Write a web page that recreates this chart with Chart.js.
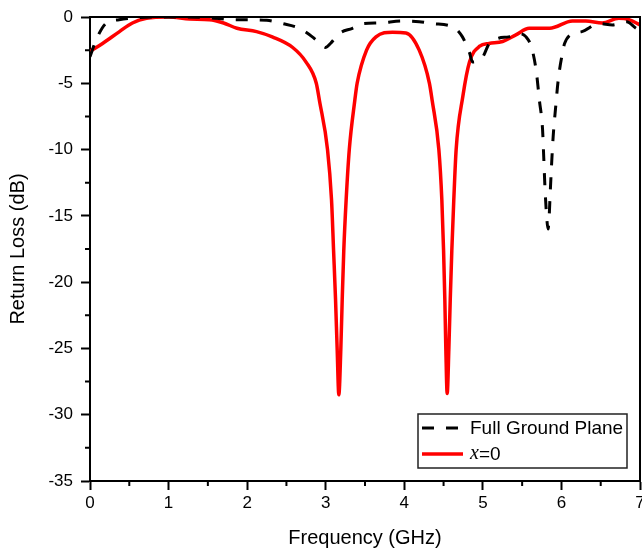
<!DOCTYPE html>
<html>
<head>
<meta charset="utf-8">
<script src="https://cdn.jsdelivr.net/npm/chart.js@4.4.1/dist/chart.umd.min.js"></script>
<style>
  body { margin: 0; background: #fff; }
  canvas { display: block; }
</style>
</head>
<body>
<canvas id="myChart" width="642" height="554"></canvas>
<script>
// Full Ground Plane (dashed black)
var freqGround = [0, 0.08, 0.2, 0.37, 0.6, 1.0, 1.5, 1.82, 2.25, 2.45, 2.66, 2.83, 2.93, 3.0, 3.06, 3.17, 3.34, 3.47, 3.68, 3.98, 4.19, 4.36, 4.62, 4.74, 4.83, 4.87, 5.0, 5.08, 5.2, 5.33, 5.46, 5.55, 5.62, 5.68, 5.72, 5.76, 5.775, 5.79, 5.81, 5.83, 5.84, 5.857, 5.874, 5.895, 5.925, 5.96, 6.02, 6.04, 6.14, 6.26, 6.48, 6.65, 6.83, 6.95, 7.0];
var lossGround = [-3.0, -1.7, -0.5, -0.2, -0.05, 0, -0.05, -0.2, -0.25, -0.5, -0.85, -1.5, -2.0, -2.3, -2.0, -1.25, -0.85, -0.5, -0.45, -0.3, -0.35, -0.5, -0.75, -1.5, -2.7, -3.4, -3.0, -2.0, -1.6, -1.5, -1.25, -1.5, -2.3, -4.1, -6.3, -8.5, -10.6, -12.8, -14.9, -16.0, -15.5, -13.3, -11.2, -9.0, -6.9, -4.7, -2.5, -2.0, -1.25, -1.1, -0.5, -0.6, -0.35, -0.85, -1.0];

// x=0 (solid red)
var freqX0 = [0, 0.16, 0.375, 0.54, 0.72, 1.0, 1.27, 1.52, 1.7, 1.87, 2.12, 2.32, 2.58, 2.75, 2.88, 2.92, 3.023, 3.074, 3.10, 3.125, 3.146, 3.167, 3.192, 3.21, 3.23, 3.26, 3.30, 3.37, 3.40, 3.52, 3.64, 3.85, 4.02, 4.19, 4.32, 4.355, 4.44, 4.478, 4.50, 4.516, 4.529, 4.546, 4.567, 4.585, 4.605, 4.63, 4.66, 4.745, 4.83, 4.96, 5.08, 5.25, 5.42, 5.59, 5.85, 6.14, 6.31, 6.52, 6.73, 6.86, 7.0];
var lossX0 = [-2.6, -2.0, -1.1, -0.45, -0.1, 0, -0.15, -0.2, -0.45, -0.85, -1.1, -1.5, -2.3, -3.4, -5.0, -6.3, -10, -13.8, -17.6, -21.3, -25.1, -28.5, -25.1, -21.3, -17.6, -13.8, -10, -6.3, -5.0, -2.5, -1.5, -1.15, -1.2, -2.5, -5.0, -6.3, -10, -13.8, -17.6, -21.3, -25.1, -28.4, -25.1, -21.3, -17.6, -13.8, -10, -6.0, -3.4, -2.2, -2.0, -1.85, -1.35, -0.85, -0.85, -0.3, -0.3, -0.45, -0.1, -0.2, -0.6];

var xTicks = [0, 1, 2, 3, 4, 5, 6, 7];
var yTicks = [-35, -30, -25, -20, -15, -10, -5, 0];

function toPoints(xs, ys) {
    return xs.map(function (x, i) { return { x: x, y: ys[i] }; });
}

var FONT = "'Liberation Sans', Arial, sans-serif";

// cadre haut/droite, petites graduations et légende
var extrasPlugin = {
    id: 'extras',
    afterDraw: function (chart) {
        var ctx = chart.ctx;
        var area = chart.chartArea;
        var xs = chart.scales.x, ys = chart.scales.y;
        ctx.save();
        ctx.strokeStyle = '#000';
        ctx.lineWidth = 2;
        ctx.beginPath();
        ctx.moveTo(area.left, area.top);
        ctx.lineTo(area.right, area.top);
        ctx.lineTo(area.right, area.bottom);
        ctx.stroke();

        // minor ticks
        ctx.beginPath();
        for (var i = 0; i < xTicks.length - 1; i++) {
            var px = xs.getPixelForValue(xTicks[i] + 0.5);
            ctx.moveTo(px, area.bottom);
            ctx.lineTo(px, area.bottom + 5);
        }
        for (var j = 0; j < yTicks.length - 1; j++) {
            var py = ys.getPixelForValue(yTicks[j] + 2.5);
            ctx.moveTo(area.left, py);
            ctx.lineTo(area.left - 5, py);
        }
        ctx.stroke();

        // legend
        var bx = 418, by = 414, bw = 209, bh = 54;
        ctx.fillStyle = '#fff';
        ctx.fillRect(bx, by, bw, bh);
        ctx.strokeStyle = '#222';
        ctx.lineWidth = 1.5;
        ctx.strokeRect(bx, by, bw, bh);

        var ds = chart.data.datasets;
        var rows = [428, 454];
        ds.forEach(function (d, k) {
            var y = rows[k];
            ctx.beginPath();
            ctx.strokeStyle = d.borderColor;
            ctx.lineWidth = d.borderWidth;
            ctx.setLineDash(d.borderDash || []);
            ctx.moveTo(422, y);
            ctx.lineTo(463, y);
            ctx.stroke();
            ctx.setLineDash([]);
        });

        ctx.fillStyle = '#000';
        ctx.textBaseline = 'middle';
        ctx.textAlign = 'left';
        ctx.font = '19px ' + FONT;
        ctx.fillText(ds[0].label, 470, rows[0] + 1);
        // "x=0" avec x en italique
        ctx.font = 'italic 20px "Liberation Serif", "Times New Roman", serif';
        ctx.fillText('x', 470, rows[1]);
        var w = ctx.measureText('x').width;
        ctx.font = '19px ' + FONT;
        ctx.fillText(ds[1].label.substring(1), 470 + w, rows[1] + 1);
        ctx.restore();
    }
};

var ctx = document.getElementById('myChart').getContext('2d');
var myChart = new Chart(ctx, {
    type: 'line',
    data: {
        datasets: [{
            label: 'Full Ground Plane',
            data: toPoints(freqGround, lossGround),
            borderColor: '#000',
            borderWidth: 3,
            borderDash: [12, 12],
            pointRadius: 0,
            cubicInterpolationMode: 'monotone',
            fill: false
        },
        {
            label: 'x=0',
            data: toPoints(freqX0, lossX0),
            borderColor: '#ff0000',
            borderWidth: 3.5,
            pointRadius: 0,
            cubicInterpolationMode: 'monotone',
            fill: false
        }]
    },
    options: {
        responsive: false,
        animation: false,
        layout: { padding: { top: 17, right: 2, left: 0, bottom: 0 } },
        plugins: {
            legend: { display: false },
            tooltip: { enabled: false }
        },
        scales: {
            x: {
                type: 'linear',
                min: 0,
                max: 7,
                afterFit: function (scale) {
                    scale.height = 73;
                    scale.paddingLeft = 0;
                    scale.paddingRight = 0;
                },
                afterBuildTicks: function (scale) {
                    scale.ticks = xTicks.map(function (v) { return { value: v }; });
                },
                ticks: {
                    color: '#000',
                    font: { family: FONT, size: 17 },
                    padding: 3,
                    maxRotation: 0
                },
                grid: {
                    drawOnChartArea: false,
                    tickLength: 9,
                    tickWidth: 2,
                    tickColor: '#000'
                },
                border: { display: true, color: '#000', width: 2 },
                title: {
                    display: true,
                    text: 'Frequency (GHz)',
                    color: '#000',
                    font: { family: FONT, size: 20 },
                    padding: { top: 0, bottom: 4 }
                }
            },
            y: {
                type: 'linear',
                min: -35,
                max: 0,
                afterFit: function (scale) {
                    scale.width = 90;
                    scale.paddingTop = 0;
                    scale.paddingBottom = 0;
                },
                afterBuildTicks: function (scale) {
                    scale.ticks = yTicks.map(function (v) { return { value: v }; });
                },
                ticks: {
                    color: '#000',
                    font: { family: FONT, size: 17 },
                    padding: 8
                },
                grid: {
                    drawOnChartArea: false,
                    tickLength: 9,
                    tickWidth: 2,
                    tickColor: '#000'
                },
                border: { display: true, color: '#000', width: 2 },
                title: {
                    display: true,
                    text: 'Return Loss (dB)',
                    color: '#000',
                    font: { family: FONT, size: 20 },
                    padding: { top: 6, bottom: 0 }
                }
            }
        }
    },
    plugins: [extrasPlugin]
});
</script>
</body>
</html>
